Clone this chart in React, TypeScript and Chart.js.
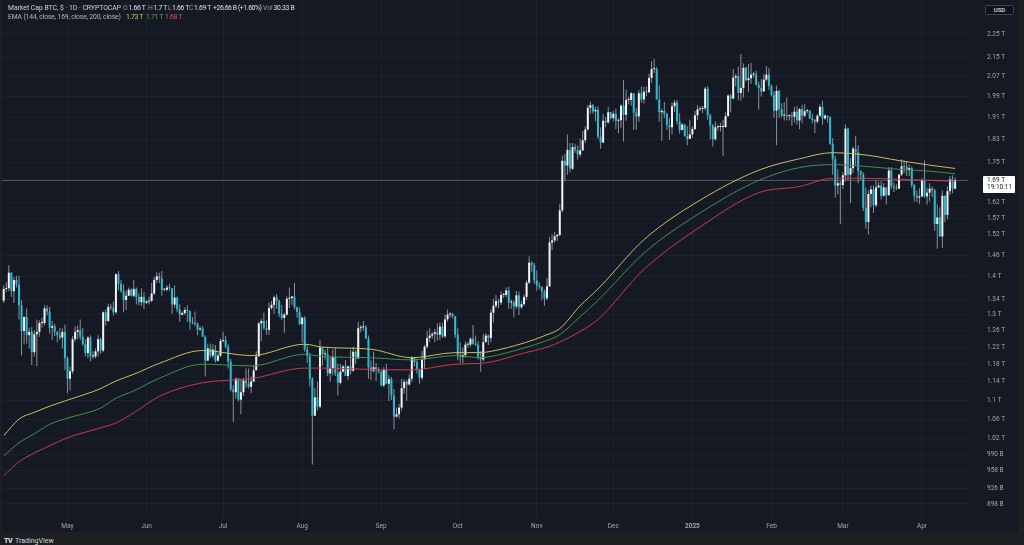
import React, { useEffect, useRef, useState } from "react";
import { Chart, registerables } from "chart.js";

Chart.register(...registerables);

// Market cap BTC, daily candles, in trillions USD. Day 0 = 2024-04-06.
const firstOpen = 1.336;
const closes = [
  1.367, 1.369, 1.411, 1.361, 1.391, 1.379, 1.324, 1.259, 1.294, 1.249,
  1.257, 1.208, 1.251, 1.257, 1.279, 1.279, 1.316, 1.308, 1.267, 1.271,
  1.257, 1.249, 1.243, 1.257, 1.194, 1.147, 1.164, 1.239, 1.257, 1.261,
  1.245, 1.227, 1.206, 1.243, 1.198, 1.198, 1.210, 1.239, 1.212, 1.306,
  1.284, 1.320, 1.318, 1.306, 1.407, 1.381, 1.361, 1.338, 1.349, 1.365,
  1.349, 1.367, 1.346, 1.332, 1.346, 1.330, 1.334, 1.336, 1.355, 1.391,
  1.401, 1.395, 1.365, 1.365, 1.371, 1.369, 1.326, 1.344, 1.314, 1.300,
  1.304, 1.312, 1.310, 1.282, 1.279, 1.277, 1.263, 1.265, 1.245, 1.188,
  1.217, 1.200, 1.214, 1.188, 1.200, 1.235, 1.237, 1.221, 1.186, 1.123,
  1.117, 1.147, 1.101, 1.117, 1.143, 1.137, 1.129, 1.141, 1.166, 1.198,
  1.278, 1.284, 1.266, 1.262, 1.317, 1.325, 1.345, 1.335, 1.302, 1.292,
  1.300, 1.341, 1.343, 1.347, 1.319, 1.307, 1.276, 1.292, 1.215, 1.199,
  1.147, 1.067, 1.106, 1.086, 1.219, 1.203, 1.203, 1.159, 1.171, 1.197,
  1.159, 1.138, 1.163, 1.175, 1.153, 1.175, 1.165, 1.209, 1.193, 1.266,
  1.268, 1.268, 1.240, 1.173, 1.165, 1.173, 1.167, 1.163, 1.132, 1.167,
  1.136, 1.146, 1.110, 1.065, 1.070, 1.084, 1.126, 1.140, 1.134, 1.147,
  1.195, 1.185, 1.169, 1.149, 1.191, 1.221, 1.242, 1.248, 1.252, 1.256,
  1.250, 1.270, 1.246, 1.288, 1.300, 1.302, 1.296, 1.250, 1.201, 1.197,
  1.201, 1.226, 1.226, 1.240, 1.228, 1.226, 1.197, 1.191, 1.232, 1.248,
  1.242, 1.305, 1.323, 1.335, 1.331, 1.351, 1.351, 1.363, 1.331, 1.331,
  1.321, 1.350, 1.319, 1.327, 1.346, 1.384, 1.439, 1.432, 1.390, 1.376,
  1.372, 1.360, 1.342, 1.374, 1.497, 1.503, 1.515, 1.519, 1.594, 1.756,
  1.740, 1.794, 1.729, 1.804, 1.794, 1.778, 1.792, 1.828, 1.867, 1.948,
  1.958, 1.934, 1.940, 1.841, 1.820, 1.899, 1.893, 1.931, 1.909, 1.925,
  1.899, 1.901, 1.956, 1.921, 1.978, 1.978, 2.004, 1.929, 1.915, 2.004,
  1.980, 2.010, 2.008, 2.065, 2.101, 2.101, 1.980, 1.931, 1.936, 1.925,
  1.883, 1.875, 1.954, 1.968, 1.897, 1.865, 1.885, 1.843, 1.833, 1.849,
  1.869, 1.919, 1.942, 1.944, 1.946, 2.022, 1.919, 1.881, 1.832, 1.875,
  1.876, 1.876, 1.876, 1.916, 1.995, 1.983, 2.066, 2.072, 2.005, 2.025,
  2.106, 2.056, 2.064, 2.078, 2.078, 2.037, 2.025, 2.011, 2.058, 2.078,
  2.033, 1.997, 1.937, 2.013, 1.943, 1.918, 1.918, 1.916, 1.916, 1.914,
  1.933, 1.900, 1.943, 1.918, 1.935, 1.937, 1.908, 1.902, 1.896, 1.918,
  1.951, 1.908, 1.918, 1.912, 1.816, 1.761, 1.673, 1.681, 1.675, 1.707,
  1.870, 1.709, 1.731, 1.798, 1.785, 1.721, 1.709, 1.602, 1.558, 1.646,
  1.661, 1.610, 1.667, 1.673, 1.640, 1.667, 1.642, 1.723, 1.671, 1.667,
  1.663, 1.709, 1.737, 1.735, 1.725, 1.731, 1.675, 1.640, 1.634, 1.638,
  1.691, 1.638, 1.650, 1.663, 1.657, 1.552, 1.572, 1.515, 1.640, 1.580,
  1.655, 1.693, 1.663, 1.690,
];
const highs = [
  1.377, 1.385, 1.432, 1.412, 1.399, 1.403, 1.403, 1.338, 1.296, 1.316,
  1.267, 1.269, 1.261, 1.288, 1.286, 1.292, 1.324, 1.324, 1.320, 1.284,
  1.277, 1.259, 1.267, 1.265, 1.275, 1.198, 1.174, 1.247, 1.271, 1.273,
  1.288, 1.267, 1.239, 1.247, 1.249, 1.210, 1.217, 1.249, 1.243, 1.308,
  1.314, 1.328, 1.328, 1.334, 1.409, 1.416, 1.391, 1.379, 1.363, 1.371,
  1.369, 1.391, 1.371, 1.355, 1.369, 1.359, 1.338, 1.347, 1.383, 1.399,
  1.412, 1.411, 1.416, 1.369, 1.377, 1.381, 1.369, 1.377, 1.347, 1.326,
  1.308, 1.318, 1.324, 1.310, 1.294, 1.308, 1.281, 1.271, 1.271, 1.249,
  1.227, 1.229, 1.227, 1.225, 1.206, 1.241, 1.257, 1.247, 1.227, 1.192,
  1.133, 1.150, 1.149, 1.147, 1.149, 1.170, 1.170, 1.152, 1.178, 1.210,
  1.282, 1.290, 1.305, 1.286, 1.331, 1.335, 1.349, 1.353, 1.339, 1.325,
  1.305, 1.347, 1.371, 1.349, 1.383, 1.321, 1.319, 1.296, 1.296, 1.226,
  1.207, 1.151, 1.126, 1.140, 1.238, 1.219, 1.213, 1.221, 1.197, 1.215,
  1.219, 1.181, 1.181, 1.177, 1.189, 1.177, 1.213, 1.221, 1.213, 1.282,
  1.274, 1.284, 1.274, 1.248, 1.189, 1.209, 1.183, 1.173, 1.165, 1.173,
  1.181, 1.155, 1.151, 1.124, 1.084, 1.092, 1.147, 1.146, 1.144, 1.157,
  1.199, 1.197, 1.193, 1.169, 1.211, 1.225, 1.260, 1.266, 1.256, 1.264,
  1.278, 1.280, 1.280, 1.300, 1.313, 1.307, 1.304, 1.296, 1.266, 1.232,
  1.219, 1.234, 1.232, 1.244, 1.274, 1.248, 1.234, 1.211, 1.252, 1.254,
  1.250, 1.313, 1.341, 1.351, 1.341, 1.361, 1.357, 1.371, 1.373, 1.339,
  1.337, 1.362, 1.360, 1.335, 1.352, 1.390, 1.457, 1.443, 1.439, 1.418,
  1.386, 1.374, 1.366, 1.396, 1.513, 1.521, 1.529, 1.523, 1.614, 1.774,
  1.780, 1.849, 1.818, 1.818, 1.816, 1.810, 1.833, 1.861, 1.879, 1.958,
  1.972, 1.962, 1.952, 1.954, 1.875, 1.925, 1.913, 1.952, 1.932, 1.936,
  1.944, 1.907, 1.960, 2.057, 2.018, 1.990, 2.008, 2.004, 1.946, 2.018,
  2.030, 2.030, 2.031, 2.083, 2.134, 2.144, 2.109, 2.035, 1.944, 1.970,
  1.929, 1.909, 1.968, 1.978, 1.978, 1.927, 1.891, 1.885, 1.879, 1.903,
  1.879, 1.936, 1.958, 1.954, 1.956, 2.030, 2.033, 1.925, 1.887, 1.897,
  1.884, 1.892, 1.902, 1.931, 1.999, 2.001, 2.102, 2.082, 2.110, 2.164,
  2.124, 2.110, 2.122, 2.126, 2.090, 2.094, 2.049, 2.060, 2.080, 2.114,
  2.104, 2.039, 2.013, 2.035, 2.019, 1.965, 1.969, 1.987, 1.923, 1.931,
  1.951, 1.955, 1.947, 1.959, 1.961, 1.943, 1.939, 1.925, 1.906, 1.923,
  1.961, 1.975, 1.923, 1.919, 1.916, 1.836, 1.773, 1.727, 1.689, 1.717,
  1.886, 1.874, 1.765, 1.806, 1.842, 1.810, 1.723, 1.717, 1.667, 1.659,
  1.673, 1.673, 1.691, 1.685, 1.687, 1.681, 1.667, 1.735, 1.735, 1.683,
  1.677, 1.711, 1.761, 1.757, 1.753, 1.743, 1.737, 1.679, 1.657, 1.665,
  1.697, 1.757, 1.665, 1.681, 1.671, 1.663, 1.612, 1.604, 1.657, 1.642,
  1.671, 1.705, 1.707, 1.700,
];
const lows = [
  1.330, 1.359, 1.361, 1.346, 1.330, 1.371, 1.288, 1.200, 1.227, 1.229,
  1.217, 1.178, 1.198, 1.176, 1.245, 1.267, 1.273, 1.298, 1.253, 1.237,
  1.247, 1.231, 1.237, 1.217, 1.166, 1.115, 1.121, 1.158, 1.233, 1.239,
  1.237, 1.223, 1.198, 1.194, 1.186, 1.192, 1.194, 1.198, 1.204, 1.208,
  1.273, 1.282, 1.312, 1.298, 1.302, 1.363, 1.357, 1.306, 1.312, 1.349,
  1.347, 1.344, 1.326, 1.324, 1.322, 1.314, 1.328, 1.326, 1.332, 1.351,
  1.383, 1.383, 1.349, 1.361, 1.361, 1.363, 1.302, 1.318, 1.306, 1.282,
  1.298, 1.300, 1.282, 1.263, 1.275, 1.271, 1.249, 1.259, 1.245, 1.152,
  1.188, 1.194, 1.194, 1.184, 1.186, 1.196, 1.231, 1.217, 1.170, 1.119,
  1.054, 1.103, 1.097, 1.070, 1.109, 1.127, 1.125, 1.115, 1.139, 1.168,
  1.199, 1.234, 1.262, 1.250, 1.250, 1.313, 1.302, 1.315, 1.294, 1.286,
  1.254, 1.298, 1.317, 1.325, 1.313, 1.292, 1.274, 1.230, 1.209, 1.183,
  1.130, 0.970, 1.067, 1.078, 1.082, 1.177, 1.191, 1.153, 1.140, 1.155,
  1.153, 1.110, 1.134, 1.161, 1.153, 1.144, 1.157, 1.163, 1.181, 1.193,
  1.256, 1.260, 1.240, 1.147, 1.144, 1.161, 1.142, 1.159, 1.130, 1.128,
  1.134, 1.098, 1.100, 1.039, 1.063, 1.061, 1.078, 1.114, 1.098, 1.132,
  1.140, 1.175, 1.159, 1.136, 1.144, 1.169, 1.217, 1.232, 1.240, 1.232,
  1.236, 1.238, 1.242, 1.242, 1.282, 1.292, 1.290, 1.242, 1.189, 1.183,
  1.183, 1.195, 1.219, 1.221, 1.226, 1.223, 1.191, 1.163, 1.187, 1.232,
  1.225, 1.232, 1.280, 1.317, 1.317, 1.325, 1.343, 1.345, 1.315, 1.315,
  1.293, 1.315, 1.299, 1.315, 1.323, 1.337, 1.380, 1.414, 1.380, 1.362,
  1.366, 1.337, 1.323, 1.337, 1.372, 1.475, 1.497, 1.501, 1.515, 1.588,
  1.687, 1.709, 1.717, 1.725, 1.784, 1.760, 1.770, 1.790, 1.818, 1.863,
  1.925, 1.925, 1.897, 1.833, 1.798, 1.818, 1.875, 1.889, 1.905, 1.897,
  1.869, 1.853, 1.873, 1.824, 1.899, 1.960, 1.956, 1.865, 1.867, 1.895,
  1.968, 1.964, 1.992, 2.004, 2.045, 2.085, 1.980, 1.895, 1.826, 1.909,
  1.865, 1.830, 1.849, 1.932, 1.885, 1.851, 1.863, 1.841, 1.810, 1.833,
  1.837, 1.865, 1.901, 1.936, 1.927, 1.938, 1.903, 1.832, 1.806, 1.826,
  1.862, 1.860, 1.773, 1.872, 1.916, 1.931, 1.983, 2.031, 1.977, 1.975,
  1.987, 2.051, 2.009, 2.041, 2.066, 2.035, 1.941, 1.991, 2.011, 2.051,
  2.017, 1.991, 1.910, 1.810, 1.910, 1.910, 1.900, 1.900, 1.900, 1.880,
  1.892, 1.884, 1.868, 1.890, 1.912, 1.927, 1.906, 1.890, 1.854, 1.890,
  1.914, 1.884, 1.902, 1.892, 1.812, 1.709, 1.634, 1.644, 1.552, 1.663,
  1.687, 1.691, 1.616, 1.715, 1.743, 1.681, 1.691, 1.592, 1.538, 1.521,
  1.604, 1.586, 1.604, 1.665, 1.628, 1.638, 1.612, 1.640, 1.661, 1.652,
  1.659, 1.663, 1.705, 1.713, 1.705, 1.705, 1.665, 1.622, 1.620, 1.614,
  1.636, 1.634, 1.612, 1.622, 1.636, 1.532, 1.479, 1.513, 1.481, 1.558,
  1.566, 1.644, 1.648, 1.660,
];

// EMA readings (day index, value in T)
const emaDays = [0, 6, 12, 18, 25, 38, 44, 51, 61, 78, 97, 118, 125, 144, 160, 177, 187, 191, 204, 213, 218, 226, 233, 251, 273, 296, 312, 325, 338, 351, 364, 373];
const ema144 = [1.026, 1.06, 1.074, 1.087, 1.1, 1.125, 1.142, 1.157, 1.182, 1.212, 1.2, 1.227, 1.22, 1.215, 1.195, 1.207, 1.207, 1.21, 1.23, 1.25, 1.265, 1.323, 1.367, 1.505, 1.626, 1.724, 1.763, 1.784, 1.776, 1.757, 1.74, 1.73];
const ema169 = [0.986, 1.012, 1.03, 1.049, 1.062, 1.083, 1.104, 1.12, 1.148, 1.18, 1.176, 1.203, 1.198, 1.195, 1.19, 1.2, 1.195, 1.198, 1.218, 1.236, 1.25, 1.295, 1.337, 1.466, 1.586, 1.69, 1.733, 1.743, 1.737, 1.727, 1.72, 1.712];
const ema200 = [0.949, 0.975, 0.992, 1.006, 1.022, 1.042, 1.052, 1.073, 1.108, 1.138, 1.147, 1.171, 1.171, 1.168, 1.167, 1.18, 1.182, 1.185, 1.206, 1.22, 1.232, 1.258, 1.288, 1.42, 1.543, 1.65, 1.67, 1.697, 1.697, 1.694, 1.69, 1.687];

const monthDays = [25, 56, 86, 117, 148, 178, 209, 239, 270, 301, 329, 360];
const monthLabels = ["May", "Jun", "Jul", "Aug", "Sep", "Oct", "Nov", "Dec", "2025", "Feb", "Mar", "Apr"];

const yTicks = [0.898, 0.926, 0.958, 0.99, 1.02, 1.06, 1.1, 1.14, 1.18, 1.22, 1.26, 1.3, 1.34, 1.4, 1.46, 1.52, 1.57, 1.62, 1.75, 1.83, 1.91, 1.99, 2.07, 2.15, 2.25];
const yTickLabels = ["898 B", "926 B", "958 B", "990 B", "1.02 T", "1.06 T", "1.1 T", "1.14 T", "1.18 T", "1.22 T", "1.26 T", "1.3 T", "1.34 T", "1.4 T", "1.46 T", "1.52 T", "1.57 T", "1.62 T", "1.75 T", "1.83 T", "1.91 T", "1.99 T", "2.07 T", "2.15 T", "2.25 T"];

const lastClose = 1.69;

const UP = "#f2f4f8";
const DOWN = "#29bdd3";
const WICK = "#8c9099";
const GRID = "rgba(255,255,255,0.035)";
const TICK = "#a3a6ae";
const FONT = "Roboto, 'Liberation Sans', sans-serif";
const PANEL = "#151924";
const FRAME = "#1e1f22";

export default function App() {
  const canvasRef = useRef<HTMLCanvasElement | null>(null);
  const [priceY, setPriceY] = useState<number | null>(null);

  useEffect(() => {
    document.body.style.margin = "0";
    document.body.style.background = FRAME;
    const canvas = canvasRef.current;
    if (!canvas) return;
    const opens = closes.map((c, i) => (i === 0 ? firstOpen : closes[i - 1]));
    const bodyData = closes.map((c, i) => ({ x: i, y: [opens[i], c] }));
    const wickData = closes.map((c, i) => ({ x: i, y: [lows[i], highs[i]] }));
    const bodyColors = closes.map((c, i) => (c >= opens[i] ? UP : DOWN));
    const line = (vals: number[], color: string) => ({
      type: "line" as const,
      data: emaDays.map((d, i) => ({ x: d, y: vals[i] })),
      borderColor: color,
      borderWidth: 1,
      pointRadius: 0,
      cubicInterpolationMode: "monotone" as const,
      order: 0,
    });
    const chart = new Chart(canvas, {
      type: "bar",
      data: {
        datasets: [
          line(ema144, "#cbbd5e"),
          line(ema169, "#3f9150"),
          line(ema200, "#c73c4c"),
          {
            type: "bar",
            data: bodyData,
            backgroundColor: bodyColors,
            barThickness: 2,
            minBarLength: 1,
            grouped: false,
            inflateAmount: 0,
            order: 2,
          },
          {
            type: "bar",
            data: wickData,
            backgroundColor: WICK,
            barThickness: 1,
            grouped: false,
            inflateAmount: 0,
            order: 3,
          },
          {
            type: "line",
            data: [
              { x: -2, y: lastClose },
              { x: 380, y: lastClose },
            ],
            borderColor: "rgba(160,163,172,0.45)",
            borderWidth: 1,
            pointRadius: 0,
            order: 4,
          },
        ],
      } as any,
      options: {
        animation: false,
        responsive: false,
        maintainAspectRatio: false,
        events: [],
        layout: { padding: 0 },
        plugins: { legend: { display: false }, tooltip: { enabled: false } },
        scales: {
          x: {
            type: "linear",
            min: -0.667,
            max: 378.05,
            offset: false,
            grid: { color: GRID, drawTicks: false, offset: false },
            border: { display: false },
            afterBuildTicks: (s: any) => {
              s.ticks = monthDays.map((v) => ({ value: v }));
            },
            afterFit: (s: any) => {
              s.height = 14;
              s.paddingLeft = 0;
              s.paddingRight = 0;
            },
            ticks: {
              autoSkip: false,
              maxRotation: 0,
              padding: 4,
              color: TICK,
              font: (ctx: any) => ({ family: FONT, size: 6.5, weight: ctx.index === 8 ? "bold" : "normal" }),
              callback: (_v: any, i: number) => monthLabels[i],
            },
          },
          y: {
            type: "logarithmic",
            position: "right",
            min: 0.87363,
            max: 2.4046,
            beginAtZero: false,
            grid: { color: GRID, drawTicks: false },
            border: { display: false },
            afterBuildTicks: (s: any) => {
              s.ticks = yTicks.map((v) => ({ value: v }));
            },
            afterFit: (s: any) => {
              s.width = 50;
              s.paddingTop = 0;
              s.paddingBottom = 0;
            },
            ticks: {
              autoSkip: false,
              padding: 19,
              color: TICK,
              font: { family: FONT, size: 6.5 },
              callback: (_v: any, i: number) => yTickLabels[i],
            },
          },
        },
      } as any,
    });
    setPriceY(chart.scales.y.getPixelForValue(lastClose));
    return () => chart.destroy();
  }, []);

  const seg = (left: number, top: number, color: string, text: string, spacing = 0) => (
    <span
      style={{
        position: "absolute",
        left,
        top,
        color,
        fontSize: 6.8,
        lineHeight: "8px",
        whiteSpace: "nowrap",
        letterSpacing: spacing,
      }}
    >
      {text}
    </span>
  );

  const G = "#9598a1";
  const W = "#dfe1e6";
  const NS = -0.3;

  return (
    <div
      style={{
        position: "relative",
        width: 1024,
        height: 545,
        background: FRAME,
        overflow: "hidden",
        fontFamily: FONT,
      }}
    >
      <div style={{ position: "absolute", left: 2, top: 0, width: 1016, height: 532, background: PANEL }}>
        <canvas ref={canvasRef} width={1016} height={532} style={{ display: "block", width: 1016, height: 532 }} />
      </div>

      {/* legend line 1 */}
      {seg(8, 4, "#d1d4dc", "Market Cap BTC, $ · 1D · CRYPTOCAP")}
      {seg(123, 4, G, "O")}
      {seg(128.5, 4, W, "1.66 T", NS)}
      {seg(148, 4, G, "H")}
      {seg(153.5, 4, W, "1.7 T", NS)}
      {seg(168, 4, G, "L")}
      {seg(172, 4, W, "1.66 T", NS)}
      {seg(189, 4, G, "C")}
      {seg(194, 4, W, "1.69 T", NS)}
      {seg(213, 4, W, "+26.66 B (+1.60%)", -0.4)}
      {seg(263, 4, G, "Vol")}
      {seg(273.5, 4, W, "30.33 B", NS)}
      {/* legend line 2 */}
      {seg(8, 12.7, "#b2b5be", "EMA (144, close, 169, close, 200, close)", -0.15)}
      {seg(126, 12.7, "#cfc95a", "1.73 T", NS)}
      {seg(146, 12.7, "#4caf50", "1.71 T", NS)}
      {seg(165, 12.7, "#e0505c", "1.68 T", NS)}

      {/* currency box */}
      <div
        style={{
          position: "absolute",
          left: 985,
          top: 5,
          width: 29,
          height: 10,
          boxSizing: "border-box",
          border: "1px solid #40434d",
          borderRadius: 1.5,
          background: "#0f1219",
          color: "#d1d4dc",
          fontSize: 6,
          lineHeight: "8px",
          textAlign: "center",
          fontWeight: 600,
        }}
      >
        USD
      </div>

      {/* last price label */}
      {priceY !== null && (
        <div
          style={{
            position: "absolute",
            left: 983,
            top: priceY - 4.5,
            width: 32,
            height: 17,
            background: "#ffffff",
            color: "#131722",
            fontSize: 6.5,
            lineHeight: "6.6px",
            paddingLeft: 4,
            paddingTop: 1.3,
            boxSizing: "border-box",
            borderRadius: 1,
          }}
        >
          <div>1.69 T</div>
          <div>19:10:11</div>
        </div>
      )}

      {/* footer */}
      <div
        style={{
          position: "absolute",
          left: 4,
          top: 537,
          fontSize: 7,
          lineHeight: "8px",
          color: "#d1d4dc",
          whiteSpace: "nowrap",
        }}
      >
        <span style={{ fontWeight: 900, letterSpacing: -0.5, marginRight: 3 }}>TV</span>
        <span>TradingView</span>
      </div>
    </div>
  );
}
